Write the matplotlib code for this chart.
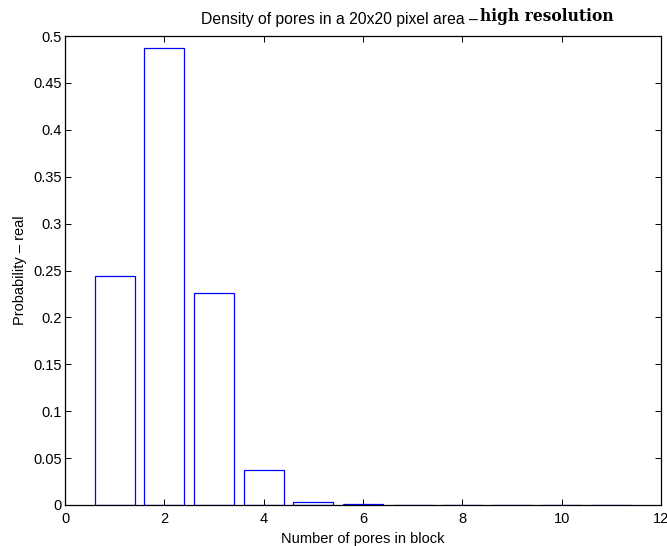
import matplotlib
matplotlib.use("Agg")
import matplotlib.pyplot as plt

# pore counts per block and their probabilities
pores = [1, 2, 3, 4, 5, 6, 7, 8, 9, 10, 11]
prob = [0.244, 0.487, 0.226, 0.0376, 0.0029, 0.0006, 0.0003, 0.0002, 0.0001, 0.0001, 0.0]

xticks = [0, 2, 4, 6, 8, 10, 12]
yticks = [0, 0.05, 0.1, 0.15, 0.2, 0.25, 0.3, 0.35, 0.4, 0.45, 0.5]
ytick_labels = ["0", "0.05", "0.1", "0.15", "0.2", "0.25", "0.3", "0.35", "0.4", "0.45", "0.5"]

plt.rcParams["font.family"] = ["Liberation Sans", "DejaVu Sans"]

W, H = 667, 546
fig = plt.figure(figsize=(W / 100, H / 100), dpi=100)
ax = fig.add_axes([65 / W, 1 - 505 / H, (661 - 65) / W, (505 - 36) / H])

ax.bar(pores, prob, width=0.8, facecolor="white", edgecolor=(0, 0, 1), linewidth=0.9)

ax.set_xlim(0, 12)
ax.set_ylim(0, 0.5)
ax.set_xticks(xticks)
ax.set_yticks(yticks)
ax.set_yticklabels(ytick_labels)
ax.tick_params(direction="in", length=4, width=0.7, top=True, right=True,
               labelsize=10.5, colors="black")
ax.tick_params(axis="x", pad=5)
ax.tick_params(axis="y", pad=2.5)
for s in ax.spines.values():
    s.set_linewidth(0.9)

ax.set_xlabel("Number of pores in block", fontsize=10.5, labelpad=4)
ax.set_ylabel("Probability \u2013 real", fontsize=10.5, labelpad=4)

# title: sans part followed by a serif part
fig.text(201 / W, 1 - 24 / H, "Density of pores in a 20x20 pixel area \u2013",
         fontsize=11.3, ha="left", va="baseline")
fig.text(480 / W, 1 - 21 / H, "high resolution", fontsize=11.2,
         family=["DejaVu Serif"], fontweight="bold",
         ha="left", va="baseline")

fig.savefig("out.png", dpi=100)
